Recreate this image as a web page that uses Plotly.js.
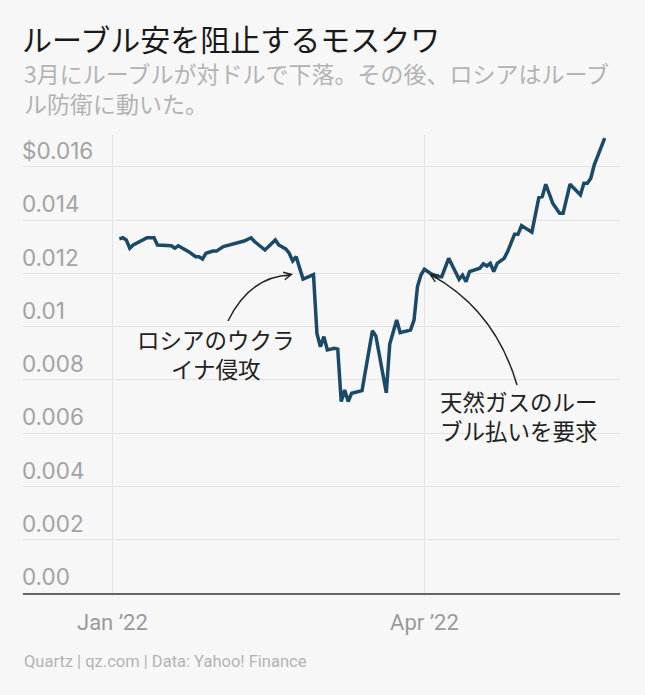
<!DOCTYPE html>
<html>
<head>
<meta charset="utf-8">
<script src="https://cdn.plot.ly/plotly-3.0.1.min.js"></script>
<style>
html,body{margin:0;padding:0;background:#f7f7f7;}
#chart{width:645px;height:695px;}
</style>
</head>
<body>
<div id="chart"></div>
<script>
// Data (USD per RUB)
const dates = [
 '2022-01-03','2022-01-04','2022-01-05','2022-01-06','2022-01-07','2022-01-09','2022-01-11','2022-01-13','2022-01-14',
 '2022-01-18','2022-01-19','2022-01-20','2022-01-21','2022-01-23','2022-01-25','2022-01-26','2022-01-27','2022-01-28',
 '2022-01-30','2022-01-31','2022-02-02','2022-02-04','2022-02-06','2022-02-08','2022-02-10','2022-02-11','2022-02-14',
 '2022-02-17','2022-02-18','2022-02-20','2022-02-21','2022-02-22','2022-02-23','2022-02-24','2022-02-25','2022-02-28',
 '2022-03-01','2022-03-02','2022-03-03','2022-03-04','2022-03-06','2022-03-07','2022-03-08','2022-03-09','2022-03-10',
 '2022-03-11','2022-03-14','2022-03-17','2022-03-18','2022-03-21','2022-03-22','2022-03-24','2022-03-25','2022-03-28',
 '2022-03-29','2022-03-30','2022-03-31','2022-04-01','2022-04-03','2022-04-05','2022-04-06','2022-04-08','2022-04-10',
 '2022-04-11','2022-04-12','2022-04-13','2022-04-14','2022-04-15','2022-04-17','2022-04-18','2022-04-19','2022-04-20',
 '2022-04-21','2022-04-22','2022-04-24','2022-04-25','2022-04-27','2022-04-28','2022-04-29','2022-05-02','2022-05-04',
 '2022-05-05','2022-05-06','2022-05-08','2022-05-10','2022-05-11','2022-05-13','2022-05-16','2022-05-17','2022-05-18',
 '2022-05-19','2022-05-20','2022-05-23'
];
const rubUsd = [
 0.01330,0.01334,0.01326,0.01295,0.01307,0.01320,0.01334,0.01334,0.01307,
 0.01304,0.01295,0.01304,0.01297,0.01282,0.01263,0.01263,0.01254,0.01276,
 0.01284,0.01284,0.01301,0.01307,0.01313,0.01322,0.01334,0.01320,0.01288,
 0.01326,0.01307,0.01292,0.01276,0.01247,0.01263,0.01220,0.01179,0.01196,
 0.00975,0.00925,0.00963,0.00913,0.00919,0.00916,0.00719,0.00762,0.00719,
 0.00750,0.00760,0.00985,0.00965,0.00752,0.00935,0.01025,0.00978,0.00988,
 0.01025,0.01151,0.01194,0.01216,0.01198,0.01188,0.01188,0.01257,0.01201,
 0.01178,0.01194,0.01169,0.01207,0.01211,0.01220,0.01236,0.01228,0.01238,
 0.01207,0.01238,0.01257,0.01282,0.01347,0.01347,0.01380,0.01355,0.01485,
 0.01489,0.01535,0.01464,0.01426,0.01426,0.01535,0.01495,0.01539,0.01539,
 0.01558,0.01608,0.01708
];
const yTickVals = [0,0.002,0.004,0.006,0.008,0.010,0.012,0.014,0.016];
const yTickText = ['0.00','0.002','0.004','0.006','0.008','0.01','0.012','0.014','$0.016'];
const xTickVals = ['2022-01-01','2022-04-01'];
const xTickText = ['Jan \u201922','Apr \u201922'];

const titleText = 'ルーブル安を阻止するモスクワ';
const subtitleText = '3月にルーブルが対ドルで下落。その後、ロシアはルーブ<br>ル防衛に動いた。';
const sourceText = 'Quartz | qz.com | Data: Yahoo! Finance';
const note1 = 'ロシアのウクラ<br>イナ侵攻';
const note2 = '天然ガスのルー<br>ブル払いを要求';

const CJK = "'Noto Sans CJK JP', 'Noto Sans', sans-serif";
const LAT = "Roboto, 'Noto Sans CJK JP', sans-serif";

const trace = {
  x: dates, y: rubUsd, type: 'scatter', mode: 'lines',
  line: {color: '#1b4a68', width: 3.5, shape: 'linear'},
  hoverinfo: 'skip'
};

const layout = {
  width: 645, height: 695,
  paper_bgcolor: '#f7f7f7', plot_bgcolor: '#f7f7f7',
  margin: {l: 23, r: 25, t: 135, b: 102},
  showlegend: false,
  title: {
    text: titleText, xref: 'container', yref: 'container',
    x: 22/645, xanchor: 'left', y: 1 - 40/695, yanchor: 'middle',
    font: {family: CJK, size: 30, color: '#1a1a1a'}
  },
  xaxis: {
    type: 'date', range: ['2021-12-06 05:00', '2022-05-27 10:00'],
    tickvals: xTickVals, ticktext: xTickText,
    showgrid: true, gridcolor: '#e3e3e3', gridwidth: 1,
    showline: true, linecolor: '#666', linewidth: 1.5,
    ticks: '', ticklabelstandoff: 9,
    tickfont: {family: LAT, size: 22, color: '#9a9a9a'},
    zeroline: false, fixedrange: true
  },
  yaxis: {
    range: [0, 0.0172],
    tickvals: yTickVals, ticktext: yTickText,
    ticklabelposition: 'inside top', ticklabelstandoff: -4,
    showgrid: true, gridcolor: '#e3e3e3', gridwidth: 1,
    showline: false, zeroline: false, ticks: '',
    tickfont: {family: "Inter, 'Noto Sans', sans-serif", size: 22.5, color: '#a3a3a3'},
    fixedrange: true
  },
  shapes: [
    {type: 'path', xref: 'paper', yref: 'paper',
     path: 'M0.3434,0.5939 Q0.3802,0.6921 0.4489,0.6943',
     line: {color: '#222', width: 1.5}},
    {type: 'path', xref: 'paper', yref: 'paper',
     path: 'M0.8275,0.4541 Q0.7906,0.6179 0.6834,0.6944',
     line: {color: '#222', width: 1.5}}
  ],
  annotations: [
    {xref: 'paper', yref: 'paper', x: -0.0017, y: (593 - 88) / 458,
     xanchor: 'left', yanchor: 'middle', align: 'left', showarrow: false,
     text: subtitleText, font: {family: CJK, size: 23, color: '#b3b3b3'}},
    {xref: 'paper', yref: 'paper', x: -0.0017, y: (593 - 661) / 458,
     xanchor: 'left', yanchor: 'middle', align: 'left', showarrow: false,
     text: sourceText, font: {family: LAT, size: 16.5, color: '#b3b3b3'}},
    {xref: 'paper', yref: 'paper', x: 0.3233, y: 0.524,
     xanchor: 'center', yanchor: 'middle', align: 'center', showarrow: false,
     text: note1, font: {family: CJK, size: 22.5, color: '#222'}},
    {xref: 'paper', yref: 'paper', x: 0.831, y: 0.3865,
     xanchor: 'center', yanchor: 'middle', align: 'center', showarrow: false,
     text: note2, font: {family: CJK, size: 22.5, color: '#222'}},
    {xref: 'paper', yref: 'paper', x: 0.4523, y: 0.6965, text: '',
     showarrow: true, arrowhead: 5, arrowsize: 1, arrowwidth: 1.5, arrowcolor: '#222',
     ax: -9, ay: 2, standoff: 0},
    {xref: 'paper', yref: 'paper', x: 0.6801, y: 0.6965, text: '',
     showarrow: true, arrowhead: 5, arrowsize: 1, arrowwidth: 1.5, arrowcolor: '#222',
     ax: 9, ay: 5, standoff: 0}
  ]
};

Plotly.newPlot('chart', [trace], layout, {displayModeBar: false, staticPlot: true});
</script>
</body>
</html>
